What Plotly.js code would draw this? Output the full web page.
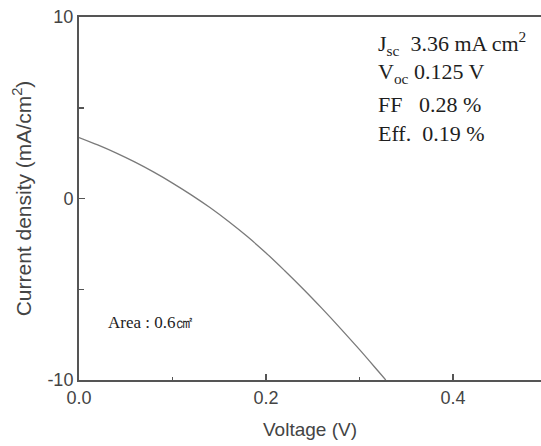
<!DOCTYPE html>
<html>
<head>
<meta charset="utf-8">
<script src="https://cdn.plot.ly/plotly-3.0.1.min.js"></script>
<style>html,body{margin:0;padding:0;background:#fff;}#chart{width:541px;height:446px;}</style>
</head>
<body>
<div id="chart"></div>
<script>
const voltage = [0, 0.02, 0.04, 0.06, 0.08, 0.10, 0.12, 0.14, 0.16, 0.18, 0.20, 0.22, 0.24, 0.26, 0.28, 0.30, 0.32, 0.328];
const currentDensity = [3.36, 2.95, 2.5, 2.0, 1.45, 0.85, 0.2, -0.5, -1.27, -2.1, -3.0, -3.98, -5.0, -6.07, -7.18, -8.33, -9.52, -10.0];
const xTicks = [0, 0.2, 0.4];
const xTickLabels = ['0.0', '0.2', '0.4'];
const yTicks = [-10, 0, 10];
const yTickLabels = ['-10', '0', '10'];
const infoLines = ['J<sub>sc</sub>&nbsp;&nbsp;3.36 mA cm<sup>2</sup>', 'V<sub>oc</sub>&nbsp;0.125 V', 'FF&nbsp;&nbsp;&nbsp;0.28 %', 'Eff.&nbsp;&nbsp;0.19 %'];
const areaLabel = 'Area : 0.6㎠';

const infoY = [0.928, 0.846, 0.76, 0.68];
const annotations = infoLines.map((t, i) => ({
  text: t, xref: 'paper', yref: 'paper', x: 0.643, y: infoY[i],
  xanchor: 'left', yanchor: 'middle', showarrow: false,
  font: {family: 'Liberation Serif, Times New Roman, serif', size: 22, color: '#1e1e1e'}
}));
annotations.push({
  text: areaLabel, xref: 'paper', yref: 'paper', x: 0.058, y: 0.158,
  xanchor: 'left', yanchor: 'middle', showarrow: false,
  font: {family: 'Liberation Serif, Times New Roman, serif', size: 17, color: '#222'}
});

const trace = {
  x: voltage, y: currentDensity, type: 'scatter', mode: 'lines',
  line: {color: '#7a7a7a', width: 1.3, shape: 'spline'}, hoverinfo: 'skip'
};

const sans = 'Liberation Sans, Arial, sans-serif';
const layout = {
  width: 541, height: 446,
  margin: {l: 79, r: 0, t: 17, b: 66},
  paper_bgcolor: '#ffffff', plot_bgcolor: '#ffffff',
  showlegend: false,
  xaxis: {
    range: [0, 0.494], showgrid: false, zeroline: false,
    showline: true, linecolor: '#555', linewidth: 2, mirror: true,
    ticks: 'inside', ticklen: 6, tickwidth: 1.5, tickcolor: '#555',
    tickvals: xTicks, ticktext: xTickLabels,
    minor: {tickvals: [0.1, 0.3], ticks: 'inside', ticklen: 3, tickcolor: '#555'},
    tickfont: {family: sans, size: 18, color: '#444'},
    title: {text: 'Voltage (V)', font: {family: sans, size: 19, color: '#444'}, standoff: 16}
  },
  yaxis: {
    range: [-10, 10], showgrid: false, zeroline: false,
    showline: true, linecolor: '#555', linewidth: 2, mirror: false,
    ticks: 'inside', ticklen: 6, tickwidth: 1.5, tickcolor: '#555',
    tickvals: yTicks, ticktext: yTickLabels,
    minor: {tickvals: [-5, 5], ticks: 'inside', ticklen: 5, tickcolor: '#555'},
    tickfont: {family: sans, size: 18, color: '#444'},
    title: {text: 'Current density (mA/cm<sup>2</sup>)', font: {family: sans, size: 21, color: '#444'}, standoff: 10}
  },
  annotations: annotations
};

Plotly.newPlot('chart', [trace], layout, {displayModeBar: false, staticPlot: true});
</script>
</body>
</html>
